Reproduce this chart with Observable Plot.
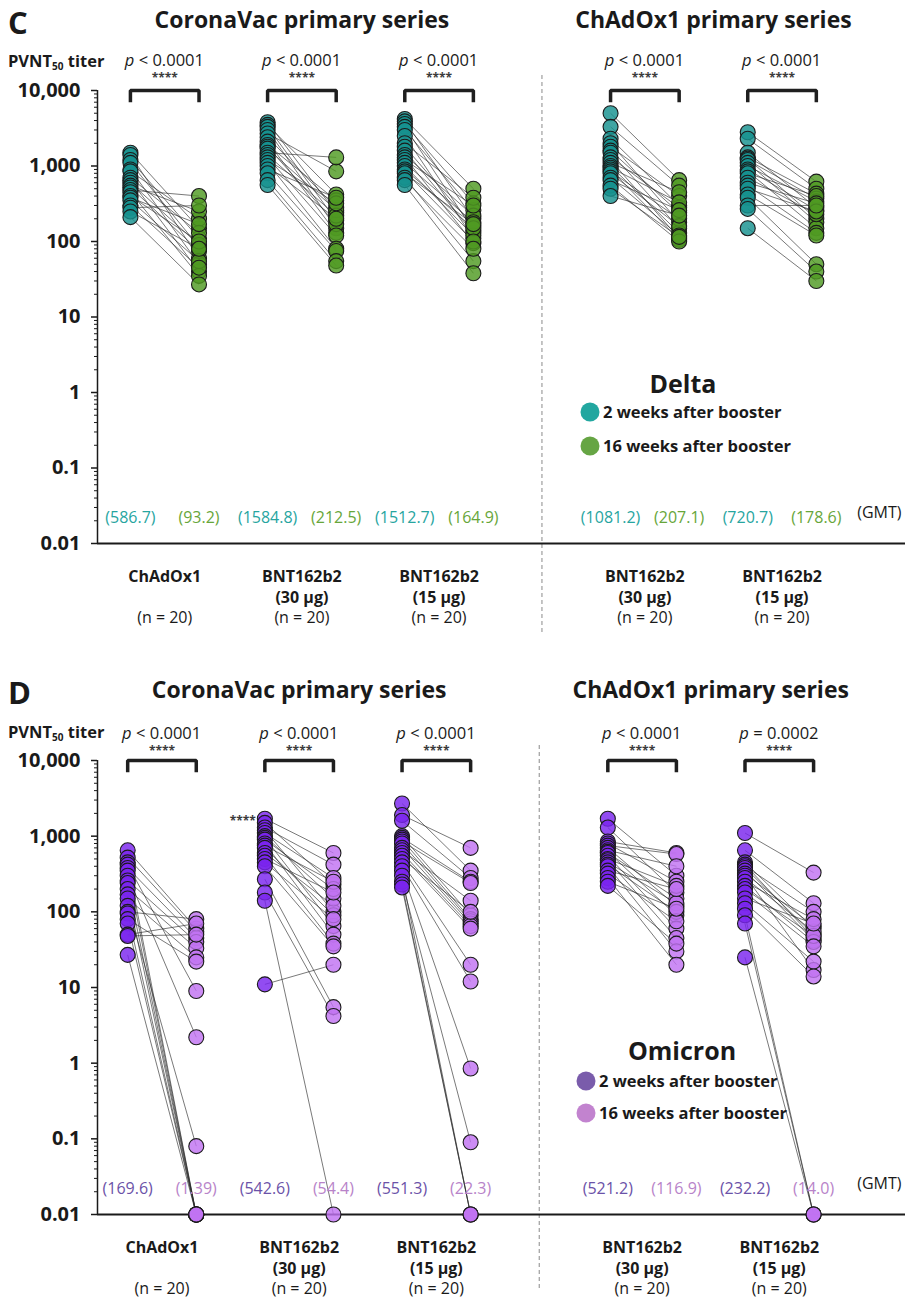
<!DOCTYPE html>
<html><head><meta charset="utf-8">
<script src="https://cdn.jsdelivr.net/npm/d3@7"></script>
<script src="https://cdn.jsdelivr.net/npm/@observablehq/plot@0.6"></script>
<style>
body{margin:0;background:#fff;font-family:"Open Sans","Noto Sans",sans-serif;color:#1a1a1a;}
#wrap{position:relative;width:921px;height:1298px;overflow:hidden;}
.panel{position:absolute;left:0;width:921px;}
.abs{position:absolute;white-space:nowrap;font-weight:700;line-height:1;}
.letter{font-size:31px;}
.ylab{font-size:16.5px;}
.ylab sub{font-size:10px;vertical-align:-3px;}
.legtitle{font-size:25px;transform:translate(-50%,-50%);}
.legtxt{font-size:16.5px;transform:translateY(-50%);}
.legdot{position:absolute;width:19px;height:19px;border-radius:50%;transform:translate(-50%,-50%);}
</style></head><body>
<div id="wrap">
  <div class="panel" id="pc" style="top:0px"></div>
  <div class="panel" id="pd" style="top:640px"></div>
  <div class="abs letter" style="left:8px;top:7px;">C</div>
  <div class="abs ylab" style="left:8px;top:53px;">PVNT<sub>50</sub> titer</div>
  <div class="abs letter" style="left:8px;top:677px;">D</div>
  <div class="abs ylab" style="left:8px;top:724px;">PVNT<sub>50</sub> titer</div>
  <div id="legC"></div>
  <div id="legD"></div>
</div>
<script>
const FONT = '"Open Sans","Noto Sans",sans-serif';

// ---- shared categories / labels ----
const groupLabels = ["ChAdOx1", "BNT162b2\n(30 µg)", "BNT162b2\n(15 µg)", "BNT162b2\n(30 µg)", "BNT162b2\n(15 µg)"];
const nLabels = ["(n = 20)", "(n = 20)", "(n = 20)", "(n = 20)", "(n = 20)"];
const groupSlots = [0, 2, 4, 7, 9];
const seriesTitles = ["CoronaVac primary series", "ChAdOx1 primary series"];
const seriesCenters = [2.5, 8.5];
const dividerSlot = 6;
const yTicks = [0.01, 0.1, 1, 10, 100, 1000, 10000];
const yTickLabels = ["0.01", "0.1", "1", "10", "100", "1,000", "10,000"];
const legendLabels = ["2 weeks after booster", "16 weeks after booster"];

// ---- Delta (panel C): paired titers, 2 weeks vs 16 weeks ----
const delta2wk_A = [1500, 1400, 1200, 1100, 900, 850, 700, 650, 600, 550, 520, 480, 450, 400, 380, 350, 300, 280, 250, 210];
const delta16wk_A = [150, 60, 110, 85, 50, 200, 130, 40, 90, 250, 75, 400, 35, 100, 170, 55, 45, 300, 80, 27];
const delta2wk_B = [3800, 3500, 3300, 3000, 2700, 2400, 2100, 1900, 1800, 1700, 1500, 1400, 1300, 1200, 1100, 1000, 900, 800, 650, 560];
const delta16wk_B = [240, 420, 190, 150, 850, 280, 130, 350, 170, 260, 1300, 220, 120, 320, 80, 200, 380, 75, 55, 48];
const delta2wk_C = [4200, 3900, 3600, 3300, 3000, 2500, 2000, 1800, 1600, 1400, 1300, 1200, 1100, 1000, 900, 850, 800, 700, 650, 560];
const delta16wk_C = [500, 200, 320, 140, 260, 110, 380, 160, 130, 220, 95, 300, 180, 120, 150, 100, 170, 55, 80, 38];
const delta2wk_D = [5000, 3300, 2300, 2000, 1800, 1600, 1500, 1300, 1200, 1100, 1000, 950, 900, 850, 800, 700, 650, 550, 500, 400];
const delta16wk_D = [650, 550, 300, 180, 400, 240, 150, 280, 110, 450, 130, 330, 105, 200, 160, 120, 260, 100, 115, 220];
const delta2wk_E = [2800, 2300, 1500, 1300, 1250, 1200, 1100, 1000, 900, 850, 800, 700, 600, 550, 500, 420, 380, 300, 270, 150];
const delta16wk_E = [620, 500, 280, 430, 200, 370, 180, 340, 260, 150, 400, 230, 320, 130, 250, 120, 50, 300, 40, 30];
const deltaGMT2wk = ["(586.7)", "(1584.8)", "(1512.7)", "(1081.2)", "(720.7)"];
const deltaGMT16wk = ["(93.2)", "(212.5)", "(164.9)", "(207.1)", "(178.6)"];
const deltaP = ["< 0.0001", "< 0.0001", "< 0.0001", "< 0.0001", "< 0.0001"];

// ---- Omicron (panel D) ----
const omi2wk_A = [650, 520, 450, 420, 380, 350, 300, 260, 240, 200, 170, 150, 120, 100, 95, 80, 70, 50, 48, 27];
const omi16wk_A = [60, 55, 0.01, 9, 45, 0.01, 2.2, 40, 0.01, 33, 0.01, 25, 0.08, 80, 0.01, 22, 0.01, 70, 50, 0.01];
const omi2wk_B = [1700, 1500, 1300, 1200, 1100, 1000, 950, 900, 800, 750, 700, 600, 550, 500, 450, 400, 270, 180, 140, 11];
const omi16wk_B = [600, 230, 420, 100, 280, 150, 65, 200, 50, 250, 90, 120, 38, 180, 80, 35, 5.5, 4.2, 0.01, 20];
const omi2wk_C = [2700, 1900, 1600, 1000, 950, 900, 850, 800, 700, 650, 600, 550, 500, 450, 400, 350, 300, 250, 230, 210];
const omi16wk_C = [350, 700, 280, 90, 250, 80, 240, 75, 70, 140, 65, 60, 100, 20, 12, 0.85, 0.01, 0.09, 0.01, 0.01];
const omi2wk_D = [1700, 1300, 850, 800, 750, 700, 650, 620, 600, 550, 500, 480, 450, 420, 400, 350, 320, 280, 250, 220];
const omi16wk_D = [300, 180, 600, 250, 580, 120, 400, 90, 150, 60, 220, 45, 130, 100, 30, 200, 75, 20, 110, 38];
const omi2wk_E = [1100, 650, 450, 420, 400, 380, 350, 320, 300, 280, 250, 220, 200, 180, 150, 130, 110, 90, 70, 25];
const omi16wk_E = [330, 130, 60, 45, 100, 50, 42, 65, 17, 55, 80, 40, 48, 35, 70, 22, 14, 0.01, 0.01, 0.01];
const omiGMT2wk = ["(169.6)", "(542.6)", "(551.3)", "(521.2)", "(232.2)"];
const omiGMT16wk = ["(1.39)", "(54.4)", "(22.3)", "(116.9)", "(14.0)"];
const omiP = ["< 0.0001", "< 0.0001", "< 0.0001", "< 0.0001", "= 0.0002"];

function buildPanel(cfg) {
  const rows = [];
  cfg.before.forEach((arr, g) => arr.forEach((v, i) => rows.push({g, slot: groupSlots[g], before: v, after: cfg.after[g][i]})));
  const groups = groupLabels.map((lab, g) => ({g, slot: groupSlots[g], label: lab, n: nLabels[g], p: cfg.p[g], gmt2: cfg.gmt2[g], gmt16: cfg.gmt16[g]}));
  const bracket = [];
  groups.forEach(d => {
    bracket.push({g: d.g, x: d.slot, y: 7000}, {g: d.g, x: d.slot, y: 10000},
                 {g: d.g, x: d.slot + 1, y: 10000}, {g: d.g, x: d.slot + 1, y: 7000});
  });
  const minor = [];
  for (let k = -2; k < 4; k++) for (let m = 2; m <= 9; m++) minor.push(m * Math.pow(10, k));
  const extra = cfg.extra || [];
  return Plot.plot({
    width: 921, height: cfg.height,
    marginLeft: 97, marginRight: 16, marginTop: cfg.marginTop, marginBottom: cfg.marginBottom,
    x: {type: "linear", domain: cfg.xDomain, axis: null},
    y: {type: "log", domain: [0.01, 10000], axis: null},
    style: {fontFamily: FONT, background: "white", color: "#1a1a1a", overflow: "visible"},
    marks: [
      Plot.ruleX([dividerSlot], {stroke: "#8a8a8a", strokeWidth: 1, strokeDasharray: "4,3", insetTop: -15, insetBottom: -cfg.marginBottom + 8}),
      Plot.ruleX([cfg.xDomain[0]], {stroke: "#1a1a1a", strokeWidth: 1.5}),
      Plot.ruleY([0.01], {stroke: "#1a1a1a", strokeWidth: 2}),
      Plot.axisY(minor, {tickSize: 3, tickFormat: () => "", stroke: "#1a1a1a", strokeWidth: 1}),
      Plot.axisY(yTicks, {tickSize: 6, tickPadding: 11, tickFormat: d => yTickLabels[yTicks.indexOf(d)], fontSize: 20, fontWeight: "bold", stroke: "#1a1a1a", strokeWidth: 1.5, fill: "#1a1a1a"}),
      Plot.link(rows, {x1: "slot", y1: "before", x2: d => d.slot + 1, y2: "after", stroke: "#2a2a2a", strokeWidth: 0.85, strokeOpacity: 0.75}),
      Plot.dot(rows, {x: "slot", y: "before", r: 7.5, fill: cfg.c2, fillOpacity: 0.82, stroke: "#1b1b1b", strokeWidth: 1.1}),
      Plot.dot(rows, {x: d => d.slot + 1, y: "after", r: 7.5, fill: cfg.c16, fillOpacity: 0.82, stroke: "#1b1b1b", strokeWidth: 1.1}),
      Plot.line(bracket, {x: "x", y: "y", z: "g", stroke: "#1f1f1f", strokeWidth: 3.5, strokeLinejoin: "miter", strokeLinecap: "butt", curve: "linear"}),
      Plot.text(groups, {x: d => d.slot + 0.5, y: () => 10000, text: () => "p", fontStyle: "italic", textAnchor: "start", dx: -40, dy: cfg.pDy, fontSize: 16.5, fill: "#1a1a1a"}),
      Plot.text(groups, {x: d => d.slot + 0.5, y: () => 10000, text: "p", textAnchor: "start", dx: -26, dy: cfg.pDy, fontSize: 16.5, fill: "#1a1a1a"}),
      Plot.text(groups, {x: d => d.slot + 0.5, y: () => 10000, text: () => "****", dy: cfg.starDy, fontSize: 12, fontWeight: "bold", fill: "#3a3a3a"}),
      Plot.text(groups, {x: "slot", y: () => 0.01, text: "gmt2", dy: -26, fontSize: 16, fill: cfg.t2}),
      Plot.text(groups, {x: d => d.slot + 1, y: () => 0.01, text: "gmt16", dy: -26, fontSize: 16, fill: cfg.t16}),
      Plot.text(["(GMT)"], {frameAnchor: "bottom-right", textAnchor: "end", dx: -4, dy: -26, fontSize: 16, fill: "#1a1a1a"}),
      Plot.text(groups, {x: d => d.slot + 0.5, y: () => 0.01, text: "label", lineAnchor: "top", dy: 24, lineHeight: 1.3, fontSize: 16, fontWeight: "bold", fill: "#1a1a1a"}),
      Plot.text(groups, {x: d => d.slot + 0.5, y: () => 0.01, text: "n", dy: 74, fontSize: 16, fill: "#1a1a1a"}),
      Plot.text(seriesTitles, {x: (d, i) => seriesCenters[i], y: () => 10000, text: d => d, dy: cfg.titleDy, fontSize: 23, fontWeight: "bold", fill: "#1a1a1a"}),
      ...extra
    ]
  });
}

// Panel C (Delta)
const deltaColors = {c2: "#16918f", c16: "#4f9a22", t2: "#27a59f", t16: "#67a63a"};
const plotC = buildPanel({
  height: 640, marginTop: 90, marginBottom: 97, xDomain: [-0.48, 11.3],
  before: [delta2wk_A, delta2wk_B, delta2wk_C, delta2wk_D, delta2wk_E],
  after: [delta16wk_A, delta16wk_B, delta16wk_C, delta16wk_D, delta16wk_E],
  gmt2: deltaGMT2wk, gmt16: deltaGMT16wk, p: deltaP,
  c2: deltaColors.c2, c16: deltaColors.c16, t2: deltaColors.t2, t16: deltaColors.t16,
  pDy: -30, starDy: -12, titleDy: -70
});
document.getElementById("pc").appendChild(plotC);

// Panel D (Omicron)
const omiColors = {c2: "#7a24ee", c16: "#c173f2", t2: "#6b52a8", t16: "#b883c9"};
const topB = d3.max(omi2wk_B);
const plotD = buildPanel({
  height: 658, marginTop: 120, marginBottom: 84, xDomain: [-0.44, 11.34],
  before: [omi2wk_A, omi2wk_B, omi2wk_C, omi2wk_D, omi2wk_E],
  after: [omi16wk_A, omi16wk_B, omi16wk_C, omi16wk_D, omi16wk_E],
  gmt2: omiGMT2wk, gmt16: omiGMT16wk, p: omiP,
  c2: omiColors.c2, c16: omiColors.c16, t2: omiColors.t2, t16: omiColors.t16,
  pDy: -27, starDy: -9, titleDy: -70,
  extra: [Plot.text([topB], {x: () => groupSlots[1], y: d => d, text: () => "****", textAnchor: "end", dx: -9, dy: 2, fontSize: 12, fontWeight: "bold", fill: "#3a3a3a"})]
});
document.getElementById("pd").appendChild(plotD);

// HTML legends
function legend(el, title, cx, titleY, dotX, ys, colors) {
  const wrap = document.getElementById(el);
  let html = `<div class="abs legtitle" style="left:${cx}px;top:${titleY}px;">${title}</div>`;
  legendLabels.forEach((lab, i) => {
    html += `<div class="legdot" style="left:${dotX}px;top:${ys[i]}px;background:${colors[i]};"></div>`;
    html += `<div class="abs legtxt" style="left:${dotX + 13}px;top:${ys[i]}px;">${lab}</div>`;
  });
  wrap.innerHTML = html;
}
legend("legC", "Delta", 683, 383, 590, [412, 446], ["#22a7a0", "#66a544"]);
legend("legD", "Omicron", 682, 1050, 586, [1081, 1113], ["#7a5cab", "#c283cf"]);
</script>
</body></html>
